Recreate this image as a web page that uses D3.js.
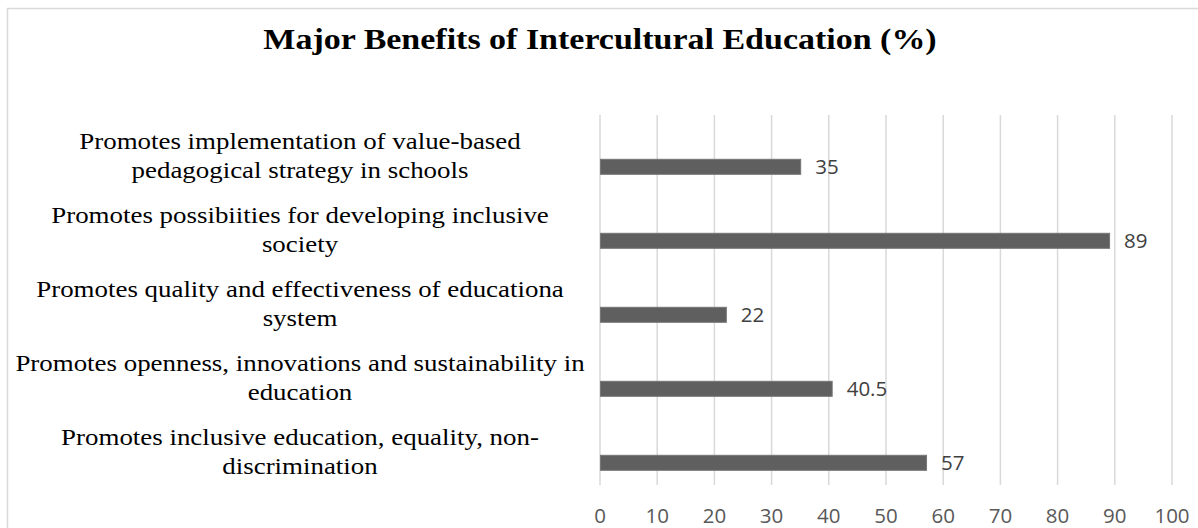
<!DOCTYPE html>
<html>
<head>
<meta charset="utf-8">
<script src="https://cdn.jsdelivr.net/npm/d3@7"></script>
<style>
  body { margin: 0; background: #fff; }
  svg { display: block; }
</style>
</head>
<body>
<div class="chart"></div>
<script>
// chart data, top to bottom
const categories = [
    ["Promotes implementation of value-based", "pedagogical strategy in schools"],
    ["Promotes possibiities for developing inclusive", "society"],
    ["Promotes quality and effectiveness of educationa", "system"],
    ["Promotes openness, innovations and sustainability in", "education"],
    ["Promotes inclusive education, equality, non-", "discrimination"]
];
const values = [35, 89, 22, 40.5, 57];
const ticks = [0, 10, 20, 30, 40, 50, 60, 70, 80, 90, 100];
const title = "Major Benefits of Intercultural Education (%)";

const width = 1198;
const height = 528;
const stretch = 1.18; // picture is a bit wider than tall

const svg = d3.select('.chart')
    .append('svg')
    .attr('width', width)
    .attr('height', height);

//chart frame
svg.append('rect')
    .attr('x', 7.5)
    .attr('y', 8.5)
    .attr('width', 1300)
    .attr('height', 700)
    .attr('fill', 'none')
    .attr('stroke', '#d9d9d9')
    .attr('stroke-width', 1.5);

//title
svg.append('g')
    .attr('transform', `translate(600,48.5) scale(${stretch},1)`)
    .append('text')
    .text(title)
    .attr('text-anchor', 'middle')
    .attr('font-family', '"Liberation Serif", "Times New Roman", serif')
    .attr('font-weight', 'bold')
    .attr('font-size', 28.8)
    .attr('fill', '#000');

const x = d3.scaleLinear().domain([0, 100]).range([600, 1172]);
const y = d3.scaleBand()
    .domain(d3.range(categories.length))
    .range([115, 485])
    .padding(0);

//gridlines
svg.selectAll('line.grid')
    .data(ticks)
    .enter()
    .append('line')
    .attr('class', 'grid')
    .attr('x1', d => x(d))
    .attr('x2', d => x(d))
    .attr('y1', 115)
    .attr('y2', 485)
    .attr('stroke', '#d9d9d9')
    .attr('stroke-width', 1.5);

//tick labels
svg.selectAll('text.tick')
    .data(ticks)
    .enter()
    .append('text')
    .attr('class', 'tick')
    .text(d => d)
    .attr('x', d => x(d))
    .attr('y', 523)
    .attr('text-anchor', 'middle')
    .attr('font-family', '"Open Sans", sans-serif')
    .attr('font-size', 20.5)
    .attr('fill', '#595959');

const barH = 15;
const barCenter = i => y(i) + y.bandwidth() * 0.7;

//bars
svg.selectAll('rect.bar')
    .data(values)
    .enter()
    .append('rect')
    .attr('class', 'bar')
    .attr('x', x(0) + 0.5)
    .attr('y', (d, i) => barCenter(i) - barH / 2)
    .attr('width', d => x(d) - x(0))
    .attr('height', barH)
    .attr('fill', '#5f5f5f')
    .attr('stroke', '#767676')
    .attr('stroke-width', 1);

//value labels
svg.selectAll('text.value')
    .data(values)
    .enter()
    .append('text')
    .attr('class', 'value')
    .text(d => d)
    .attr('x', d => x(d) + 15)
    .attr('y', (d, i) => barCenter(i) + 7.5)
    .attr('font-family', '"Open Sans", sans-serif')
    .attr('font-size', 20.5)
    .attr('fill', '#404040');

//category labels, two lines each
const labels = svg.selectAll('g.label')
    .data(categories)
    .enter()
    .append('g')
    .attr('class', 'label')
    .attr('transform', (d, i) => `translate(300,${y(i) + 33.5}) scale(1.145,1)`);

labels.selectAll('text')
    .data(d => d)
    .enter()
    .append('text')
    .text(d => d)
    .attr('x', 0)
    .attr('y', (d, j) => j * 30)
    .attr('text-anchor', 'middle')
    .attr('font-family', '"Liberation Serif", "Times New Roman", serif')
    .attr('font-size', 23.5)
    .attr('fill', '#000');
</script>
</body>
</html>
